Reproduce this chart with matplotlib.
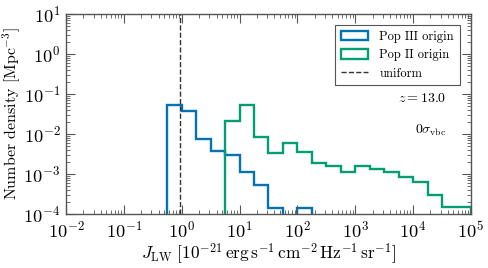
import numpy as np
import matplotlib
matplotlib.use("Agg")
import matplotlib.pyplot as plt
from matplotlib.ticker import LogLocator, NullFormatter
from matplotlib.patches import Patch
from matplotlib.lines import Line2D

plt.rcParams['font.family'] = ['cmr10', 'DejaVu Serif']
plt.rcParams['mathtext.fontset'] = 'cm'
plt.rcParams['axes.formatter.use_mathtext'] = True

# bin edges in log10(J_LW), 0.25 dex wide
pop3_edges_log = [-0.25, 0.0, 0.25, 0.5, 0.75, 1.0, 1.25, 1.5, 1.75, 2.0, 2.25]
pop3_values = [0.053, 0.037, 0.0076, 0.0038, 0.0029, 0.0011, 0.00053, 0.000145, 0.0, 0.000145]

pop2_edges_log = [0.75, 1.0, 1.25, 1.5, 1.75, 2.0, 2.25, 2.5, 2.75, 3.0, 3.25,
                  3.5, 3.75, 4.0, 4.25, 4.5, 4.75, 5.0]
pop2_values = [0.021, 0.053, 0.0083, 0.0034, 0.0061, 0.0035, 0.0019, 0.0016,
               0.00115, 0.00155, 0.0013, 0.0011, 0.00085, 0.00062, 0.00030,
               0.00015, 0.00015]

uniform_J = 0.94

labels = ["Pop III origin", "Pop II origin", "uniform"]
z_text = r"$z = 13.0$"
sig_text = r"$0\sigma_{\rm vbc}$"

c_blue = '#0173B2'
c_green = '#029E73'
c_dash = '#333333'

fig = plt.figure(figsize=(4.89, 2.68), dpi=100)
ax = fig.add_axes([0.135, 0.2015, 0.828, 0.7465])

def draw(edges_log, vals, color):
    edges = 10.0 ** np.array(edges_log)
    v = np.array(vals, dtype=float)
    v = np.where(v > 0, v, 1e-12)
    ax.stairs(v, edges, baseline=1e-12, fill=False, color=color, lw=1.7)

draw(pop3_edges_log, pop3_values, c_blue)
draw(pop2_edges_log, pop2_values, c_green)
ax.axvline(uniform_J, color=c_dash, ls='--', lw=1.0)

ax.set_xscale('log')
ax.set_yscale('log')
ax.set_xlim(1e-2, 1e5)
ax.set_ylim(1e-4, 1e1)

ax.xaxis.set_major_locator(LogLocator(base=10, numticks=20))
ax.xaxis.set_minor_locator(LogLocator(base=10, subs=np.arange(2, 10), numticks=20))
ax.yaxis.set_major_locator(LogLocator(base=10, numticks=20))
ax.yaxis.set_minor_locator(LogLocator(base=10, subs=np.arange(2, 10), numticks=20))
ax.xaxis.set_minor_formatter(NullFormatter())
ax.yaxis.set_minor_formatter(NullFormatter())

ax.tick_params(which='both', direction='in', top=True, right=True,
               color='#555555', labelsize=13.2)
ax.tick_params(which='major', length=6.5, width=0.8, pad=4)
ax.tick_params(which='minor', length=3, width=0.6)
for s in ax.spines.values():
    s.set_color('#555555')
    s.set_linewidth(1.0)

ax.set_xlabel(r"$J_{\rm LW}\ [10^{-21}\,{\rm erg\,s^{-1}\,cm^{-2}\,Hz^{-1}\,sr^{-1}}]$",
              fontsize=12.5, labelpad=1)
ax.set_ylabel(r"Number density [Mpc$^{-3}$]", fontsize=11.5, labelpad=0)

handles = [Patch(facecolor='none', edgecolor=c_blue, lw=1.7),
           Patch(facecolor='none', edgecolor=c_green, lw=1.7),
           Line2D([], [], color=c_dash, ls='--', lw=1.0)]
leg = ax.legend(handles, labels, loc='upper right', fontsize=9, fancybox=False,
                framealpha=1, edgecolor='#555555', borderaxespad=0.9,
                handlelength=2.2, handleheight=0.8, borderpad=0.45,
                labelspacing=0.5, handletextpad=0.9)
leg.get_frame().set_linewidth(0.8)

ax.text(0.94, 0.575, z_text, transform=ax.transAxes, ha='right', va='center',
        fontsize=10)
ax.text(0.94, 0.42, sig_text, transform=ax.transAxes, ha='right', va='center',
        fontsize=10)

fig.savefig("out.png", dpi=100)
